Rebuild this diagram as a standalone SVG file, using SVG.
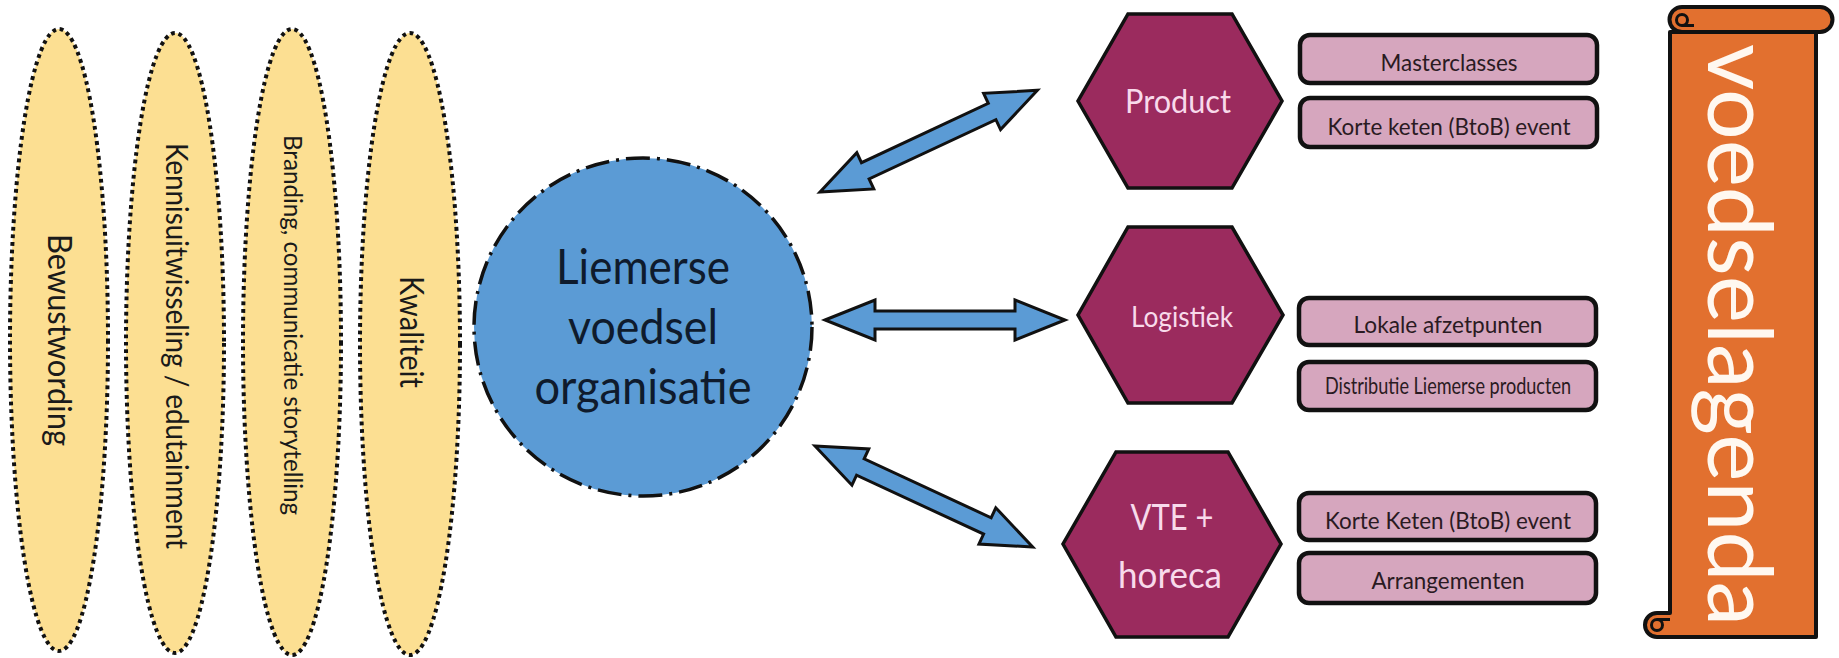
<svg xmlns="http://www.w3.org/2000/svg" xmlns:xlink="http://www.w3.org/1999/xlink" width="1839" height="658" viewBox="0 0 1839 658">
<style>
.ell{fill:#FCDF92;stroke:#111;stroke-width:4;stroke-dasharray:3.8 3.8}
.etxt{font-family:Lato,'Open Sans',sans-serif;fill:#1a1a1a;text-anchor:middle}
.hex{fill:#9B2B5E;stroke:#111;stroke-width:3.5;stroke-linejoin:miter}
.htxt{font-family:Lato,'Open Sans',sans-serif;fill:#F8DAEB;text-anchor:middle}
.box{fill:#D6A6BE;stroke:#111;stroke-width:4.5}
.btxt{font-family:Lato,'Open Sans',sans-serif;fill:#2a1a22;text-anchor:middle;font-size:24px}
.arr{fill:#5B9BD5;stroke:#111;stroke-width:3;stroke-linejoin:miter}
.scr{fill:#E2702F;stroke:#111;stroke-width:4;stroke-linejoin:round}
</style>
<defs>
<polygon id="dbl" points="0,0 50,-20 50,-9 190,-9 190,-20 240,0 190,20 190,9 50,9 50,20"/>
</defs>
<rect width="1839" height="658" fill="#fff"/>

<g id="ellipse-bewustwording">
<ellipse class="ell" cx="59" cy="340" rx="49" ry="311"/>
<text class="etxt" font-size="32" textLength="212" lengthAdjust="spacingAndGlyphs" transform="translate(48,340) rotate(90)">Bewustwording</text>
</g>
<g id="ellipse-kennis">
<ellipse class="ell" cx="175" cy="343" rx="49" ry="310"/>
<text class="etxt" font-size="30" textLength="406" lengthAdjust="spacingAndGlyphs" transform="translate(166,346) rotate(90)">Kennisuitwisseling / edutainment</text>
</g>
<g id="ellipse-branding">
<ellipse class="ell" cx="292" cy="342" rx="49" ry="313"/>
<text class="etxt" font-size="25" textLength="380" lengthAdjust="spacingAndGlyphs" transform="translate(284,325) rotate(90)">Branding, communicatie storytelling</text>
</g>
<g id="ellipse-kwaliteit">
<ellipse class="ell" cx="410" cy="344" rx="50" ry="311"/>
<text class="etxt" font-size="32" textLength="112" lengthAdjust="spacingAndGlyphs" transform="translate(400,332) rotate(90)">Kwaliteit</text>
</g>

<g id="circle-organisatie">
<circle cx="643" cy="327" r="169" fill="#5B9BD5" stroke="#111" stroke-width="3.5" stroke-dasharray="24 7 3 7"/>
<g font-family="Lato,'Open Sans',sans-serif" font-size="48" fill="#0F1B2D" text-anchor="middle">
<text x="643" y="284" textLength="174" lengthAdjust="spacingAndGlyphs">Liemerse</text>
<text x="643" y="344" textLength="150" lengthAdjust="spacingAndGlyphs">voedsel</text>
<text x="643" y="404" textLength="217" lengthAdjust="spacingAndGlyphs">organisatie</text>
</g>
</g>

<g id="connectors">
<use xlink:href="#dbl" class="arr" transform="translate(820,192) rotate(-25.07)"/>
<use xlink:href="#dbl" class="arr" transform="translate(825,320)"/>
<use xlink:href="#dbl" class="arr" transform="translate(815,446) rotate(24.88)"/>
</g>

<g id="hex-product">
<polygon class="hex" points="1128,14 1232,14 1282,101 1232,188 1128,188 1078,101"/>
<text class="htxt" x="1178" y="113" font-size="33" textLength="106" lengthAdjust="spacingAndGlyphs">Product</text>
</g>
<g id="hex-logistiek">
<polygon class="hex" points="1128,227 1232,227 1283,315 1232,403 1128,403 1078,315"/>
<text class="htxt" x="1182" y="327" font-size="29" textLength="102" lengthAdjust="spacingAndGlyphs">Logistiek</text>
</g>
<g id="hex-vte">
<polygon class="hex" points="1116,452 1228,452 1281,544 1228,637 1116,637 1063,544"/>
<text class="htxt" x="1172" y="530" font-size="36" textLength="83" lengthAdjust="spacingAndGlyphs">VTE +</text>
<text class="htxt" x="1170" y="588" font-size="36" textLength="104" lengthAdjust="spacingAndGlyphs">horeca</text>
</g>

<g id="box-masterclasses">
<rect class="box" x="1300" y="35" width="297" height="48" rx="10"/>
<text class="btxt" x="1449" y="71" textLength="137" lengthAdjust="spacingAndGlyphs">Masterclasses</text>
</g>
<g id="box-korte-keten-1">
<rect class="box" x="1300" y="98" width="297" height="49" rx="10"/>
<text class="btxt" x="1449" y="135" textLength="243" lengthAdjust="spacingAndGlyphs">Korte keten (BtoB) event</text>
</g>
<g id="box-lokale">
<rect class="box" x="1299" y="298" width="297" height="47" rx="10"/>
<text class="btxt" x="1448" y="333" textLength="189" lengthAdjust="spacingAndGlyphs">Lokale afzetpunten</text>
</g>
<g id="box-distributie">
<rect class="box" x="1299" y="362" width="297" height="48" rx="10"/>
<text class="btxt" x="1448" y="394" font-size="19.5" textLength="246" lengthAdjust="spacingAndGlyphs">Distributie Liemerse producten</text>
</g>
<g id="box-korte-keten-2">
<rect class="box" x="1299" y="493" width="297" height="47" rx="10"/>
<text class="btxt" x="1448" y="529" textLength="246" lengthAdjust="spacingAndGlyphs">Korte Keten (BtoB) event</text>
</g>
<g id="box-arrangementen">
<rect class="box" x="1299" y="553" width="297" height="50" rx="10"/>
<text class="btxt" x="1448" y="589" textLength="153" lengthAdjust="spacingAndGlyphs">Arrangementen</text>
</g>

<g id="scroll-voedselagenda">
<path class="scr" d="M1670,32 H1816 V637 H1657 A12,12 0 0 1 1657,613 H1670 Z"/>
<path class="scr" d="M1682,7 H1820 A12.5,12.5 0 0 1 1820,32 H1682 A12.5,12.5 0 0 1 1682,7 Z"/>
<circle cx="1682" cy="20" r="5.5" fill="#E2702F" stroke="#111" stroke-width="3"/>
<path d="M1682,25.5 H1694" stroke="#111" stroke-width="3" fill="none"/>
<circle cx="1657" cy="625" r="5.5" fill="#E2702F" stroke="#111" stroke-width="3"/>
<path d="M1657,619.5 H1670" stroke="#111" stroke-width="3" fill="none"/>
<text font-family="Lato,'Open Sans',sans-serif" font-size="90" fill="#FFF8F0" text-anchor="middle" textLength="582" lengthAdjust="spacingAndGlyphs" transform="translate(1708,335) rotate(90)">voedselagenda</text>
</g>
</svg>
